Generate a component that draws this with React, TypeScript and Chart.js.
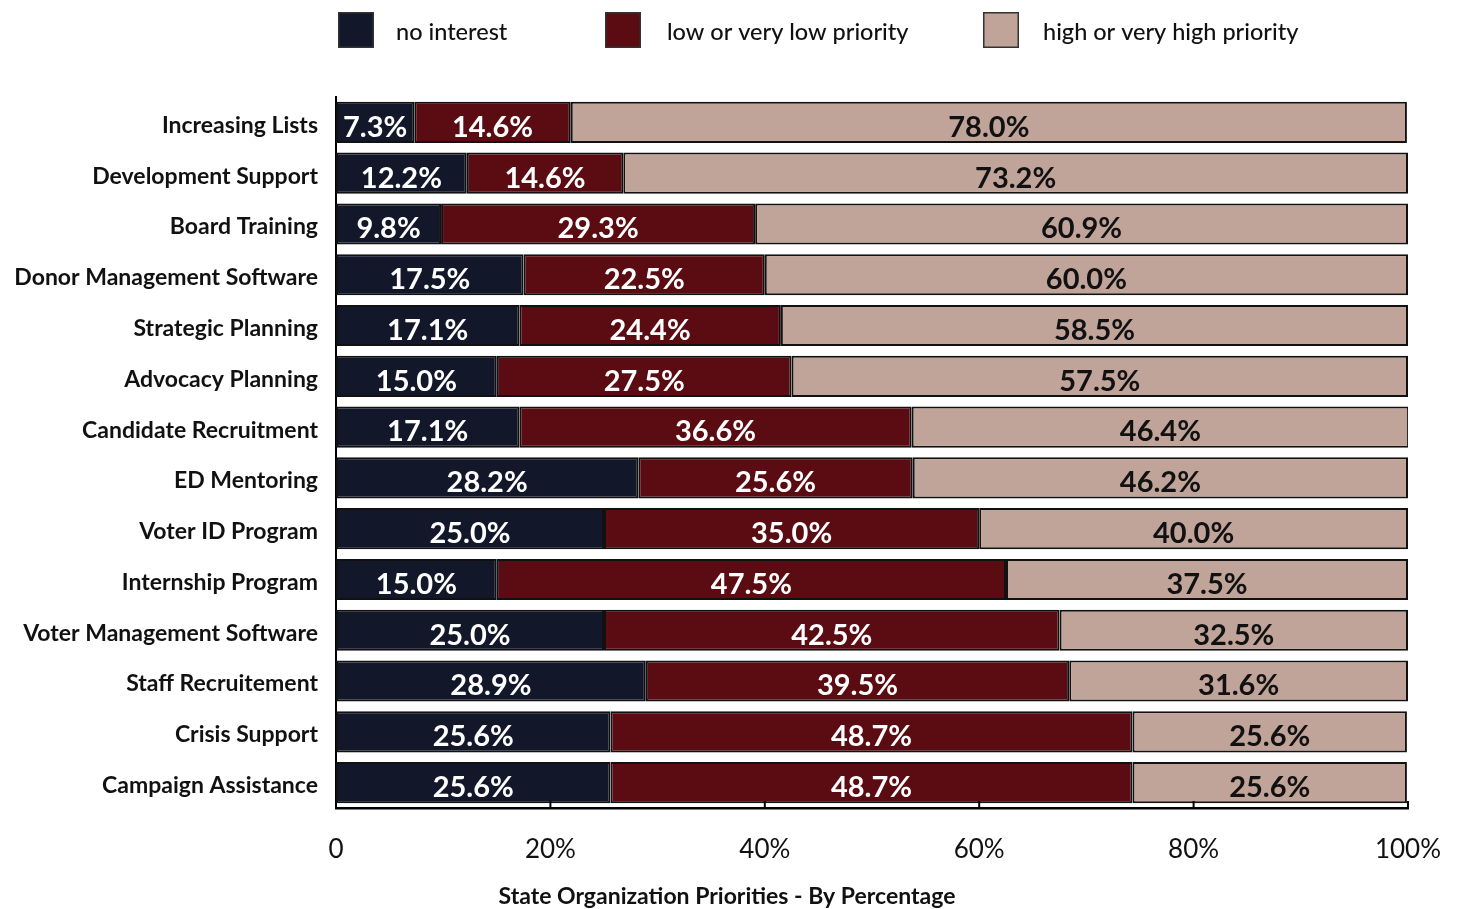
import React, { useEffect, useRef } from "react";
import { Chart, registerables } from "chart.js";

Chart.register(...registerables);

const categories = [
  "Increasing Lists",
  "Development Support",
  "Board Training",
  "Donor Management Software",
  "Strategic Planning",
  "Advocacy Planning",
  "Candidate Recruitment",
  "ED Mentoring",
  "Voter ID Program",
  "Internship Program",
  "Voter Management Software",
  "Staff Recruitement",
  "Crisis Support",
  "Campaign Assistance",
];

const noInterest = [7.3, 12.2, 9.8, 17.5, 17.1, 15.0, 17.1, 28.2, 25.0, 15.0, 25.0, 28.9, 25.6, 25.6];
const lowPriority = [14.6, 14.6, 29.3, 22.5, 24.4, 27.5, 36.6, 25.6, 35.0, 47.5, 42.5, 39.5, 48.7, 48.7];
const highPriority = [78.0, 73.2, 60.9, 60.0, 58.5, 57.5, 46.4, 46.2, 40.0, 37.5, 32.5, 31.6, 25.6, 25.6];

const seriesNames = ["no interest", "low or very low priority", "high or very high priority"];
const seriesColors = ["#12172a", "#5a0c12", "#c0a399"];
const valueLabelColors = ["#ffffff", "#ffffff", "#111111"];

const xTickValues = [0, 20, 40, 60, 80, 100];
const axisTitle = "State Organization Priorities - By Percentage";

const FONT = "Lato, 'Open Sans', sans-serif";

const valueLabelPlugin = {
  id: "valueLabels",
  afterDatasetsDraw(chart: any) {
    const ctx = chart.ctx;
    ctx.save();
    ctx.font = `bold 29px ${FONT}`;
    ctx.textAlign = "center";
    ctx.textBaseline = "middle";
    chart.data.datasets.forEach((ds: any, di: number) => {
      const meta = chart.getDatasetMeta(di);
      meta.data.forEach((bar: any, i: number) => {
        const { x, y, base } = bar.getProps(["x", "y", "base"], true);
        const cx = (x + base) / 2;
        ctx.fillStyle = valueLabelColors[di];
        ctx.fillText(Number(ds.data[i]).toFixed(1) + "%", cx, y + 5);
      });
    });
    ctx.restore();
  },
};

const innerTicksPlugin = {
  id: "innerTicks",
  afterDraw(chart: any) {
    const ctx = chart.ctx;
    const xs = chart.scales.x;
    const bottom = chart.chartArea.bottom;
    ctx.save();
    ctx.strokeStyle = "#000";
    ctx.lineWidth = 2;
    xTickValues.forEach((v) => {
      if (v === 0) return;
      const px = xs.getPixelForValue(v);
      ctx.beginPath();
      ctx.moveTo(px, bottom);
      ctx.lineTo(px, bottom - 7);
      ctx.stroke();
    });
    ctx.restore();
  },
};

const legendPlugin = {
  id: "customLegend",
  afterDraw(chart: any) {
    const ctx = chart.ctx;
    const left = chart.chartArea.left;
    const boxOffsets = [2, 269, 647];
    const textGaps = [58, 62, 60];
    ctx.save();
    ctx.font = `500 23.5px ${FONT}`;
    ctx.textBaseline = "middle";
    ctx.textAlign = "left";
    chart.data.datasets.forEach((ds: any, i: number) => {
      const bx = left + boxOffsets[i];
      const by = 12;
      ctx.fillStyle = ds.backgroundColor;
      ctx.fillRect(bx, by, 36, 36);
      ctx.strokeStyle = "#333";
      ctx.lineWidth = 1.5;
      ctx.strokeRect(bx + 0.75, by + 0.75, 34.5, 34.5);
      ctx.fillStyle = "#111";
      ctx.fillText(ds.label, bx + textGaps[i], by + 20);
    });
    ctx.restore();
  },
};

const bottomTitlePlugin = {
  id: "bottomTitle",
  afterDraw(chart: any) {
    const ctx = chart.ctx;
    ctx.save();
    ctx.font = `bold 23px ${FONT}`;
    ctx.textAlign = "center";
    ctx.textBaseline = "middle";
    ctx.fillStyle = "#111";
    ctx.fillText(axisTitle, chart.width / 2 - 3, 897);
    ctx.restore();
  },
};

export default function App() {
  const canvasRef = useRef<HTMLCanvasElement | null>(null);

  useEffect(() => {
    if (!canvasRef.current) return;
    const series = [noInterest, lowPriority, highPriority];
    const chart = new Chart(canvasRef.current, {
      type: "bar",
      data: {
        labels: categories,
        datasets: series.map((d, i) => ({
          label: seriesNames[i],
          data: d,
          backgroundColor: seriesColors[i],
          borderColor: "#111",
          borderWidth: 2,
          borderSkipped: false,
          barPercentage: 0.81,
          categoryPercentage: 1,
        })),
      },
      options: {
        indexAxis: "y",
        responsive: false,
        animation: false,
        layout: { padding: { top: 97, right: 52, bottom: 0, left: 0 } },
        plugins: {
          legend: { display: false },
          tooltip: { enabled: false },
          title: { display: false },
        },
        scales: {
          x: {
            stacked: true,
            min: 0,
            max: 100,
            afterBuildTicks(scale: any) {
              scale.ticks = xTickValues.map((v) => ({ value: v }));
            },
            afterFit(scale: any) {
              scale.height = 101;
              scale.paddingLeft = 0;
              scale.paddingRight = 0;
            },
            grid: { display: false, drawTicks: false },
            border: { display: true, color: "#000", width: 2.5 },
            ticks: {
              padding: 26,
              color: "#111",
              font: { family: FONT, size: 26 },
              callback: (v: any) => (Number(v) === 0 ? "0" : v + "%"),
            },
          },
          y: {
            stacked: true,
            afterFit(scale: any) {
              scale.width = 336;
              scale.paddingTop = 0;
              scale.paddingBottom = 0;
            },
            grid: { display: false, drawTicks: false },
            border: { display: true, color: "#000", width: 2 },
            ticks: {
              padding: 18,
              labelOffset: 3,
              color: "#111",
              font: { family: FONT, size: 23, weight: "bold" },
            },
          },
        },
      },
      plugins: [valueLabelPlugin, innerTicksPlugin, legendPlugin, bottomTitlePlugin],
    } as any);
    return () => chart.destroy();
  }, []);

  return (
    <div style={{ position: "absolute", left: 0, top: 0, width: 1460, height: 909, background: "#fff" }}>
      <canvas ref={canvasRef} width={1460} height={909} style={{ display: "block" }} />
    </div>
  );
}
